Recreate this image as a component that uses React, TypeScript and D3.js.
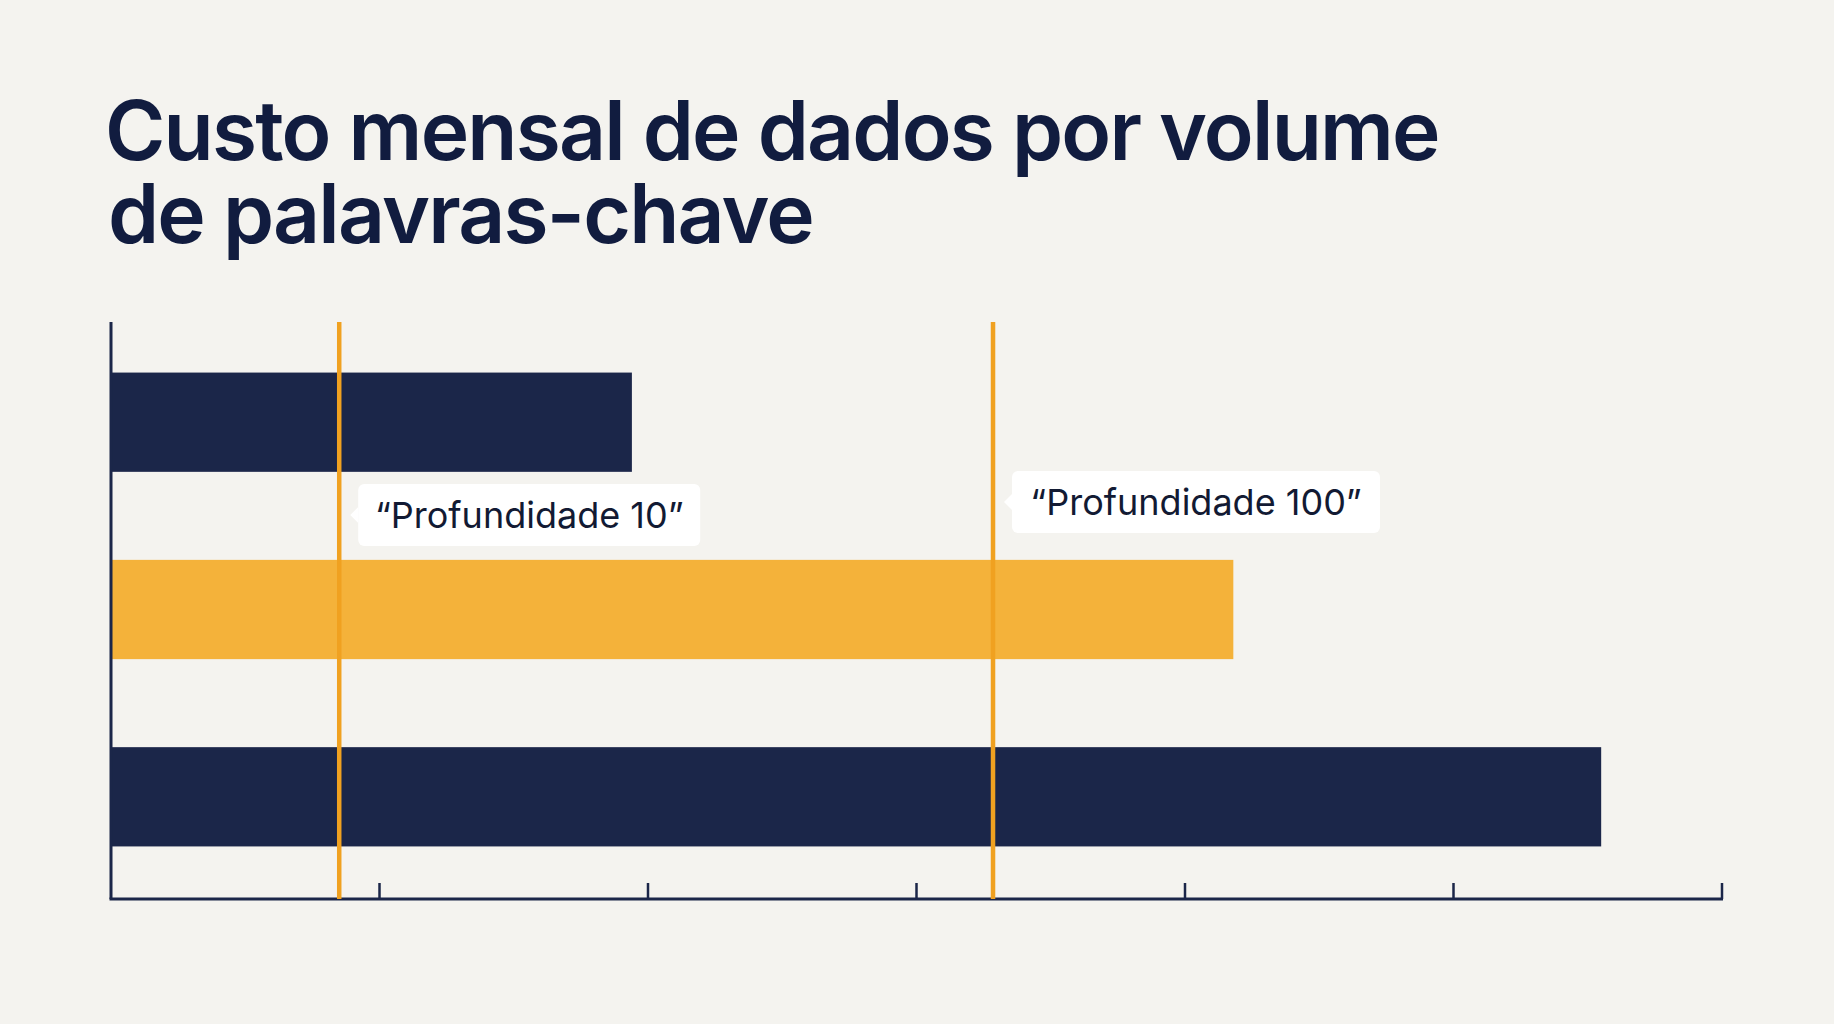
import React from "react";
import * as d3 from "d3";

const WIDTH = 1834;
const HEIGHT = 1024;

const titleLines = ["Custo mensal de dados por volume", "de palavras-chave"];

const categories = ["Volume baixo", "Volume médio", "Volume alto"];
const barValues = [1.94, 4.18, 5.55];
const barColors = ["#1b2649", "#f4b23a", "#1b2649"];

const tickValues = [0, 1, 2, 3, 4, 5, 6];

const markerLabels = ["“Profundidade 10”", "“Profundidade 100”"];
const markerValues = [0.85, 3.285];

const NAVY = "#1b2649";
const ORANGE = "#f0a120";
const BG = "#f4f3ef";

export default function App() {
  const x = d3.scaleLinear().domain([0, 6]).range([111, 1722]);
  const y = d3
    .scaleBand<string>()
    .domain(categories)
    .range([322, 897])
    .paddingInner(0.47)
    .paddingOuter(0.27);

  const baseY = 899;
  const labelY = [515, 502];

  return (
    <svg
      width={WIDTH}
      height={HEIGHT}
      style={{ position: "absolute", left: 0, top: 0, display: "block" }}
    >
      <rect width={WIDTH} height={HEIGHT} fill={BG} />

      <text
        fontFamily="Inter, 'Noto Sans', sans-serif"
        fontWeight={600}
        fontSize={82}
        fill="#111c3f"
        letterSpacing={-1.8}
      >
        {titleLines.map((line, i) => (
          <tspan key={i} x={105 + i * 3} y={160 + i * 83}>
            {line}
          </tspan>
        ))}
      </text>

      {/* bars */}
      {categories.map((c, i) => (
        <rect
          key={c}
          x={x(0)}
          y={y(c)}
          width={x(barValues[i]) - x(0)}
          height={y.bandwidth()}
          fill={barColors[i]}
        />
      ))}

      {/* axes */}
      <line x1={x(0)} x2={x(0)} y1={322} y2={baseY} stroke={NAVY} strokeWidth={3} />
      <line x1={x(0) - 1.5} x2={x(6) + 1} y1={baseY} y2={baseY} stroke={NAVY} strokeWidth={3} />
      {tickValues.slice(1).map((t) => (
        <line
          key={t}
          x1={x(t)}
          x2={x(t)}
          y1={baseY}
          y2={baseY - 16}
          stroke={NAVY}
          strokeWidth={2.5}
        />
      ))}

      {/* marker lines */}
      {markerValues.map((v, i) => (
        <line
          key={i}
          x1={x(v)}
          x2={x(v)}
          y1={322}
          y2={baseY}
          stroke={ORANGE}
          strokeWidth={4.5}
        />
      ))}

      {/* marker labels */}
      {markerValues.map((v, i) => {
        const bx = x(v) + 19;
        const cy = labelY[i];
        const w = markerLabels[i].length > 17 ? 368 : 342;
        const h = 62;
        return (
          <g key={i}>
            <rect x={bx} y={cy - h / 2} width={w} height={h} rx={6} fill="#ffffff" />
            <path
              d={`M${bx} ${cy - 8} L${bx - 8} ${cy} L${bx} ${cy + 8} Z`}
              fill="#ffffff"
            />
            <text
              x={bx + w / 2}
              y={cy + 13}
              textAnchor="middle"
              fontFamily="Inter, 'Noto Sans', sans-serif"
              fontSize={36}
              fill="#121a33"
            >
              {markerLabels[i]}
            </text>
          </g>
        );
      })}
    </svg>
  );
}
